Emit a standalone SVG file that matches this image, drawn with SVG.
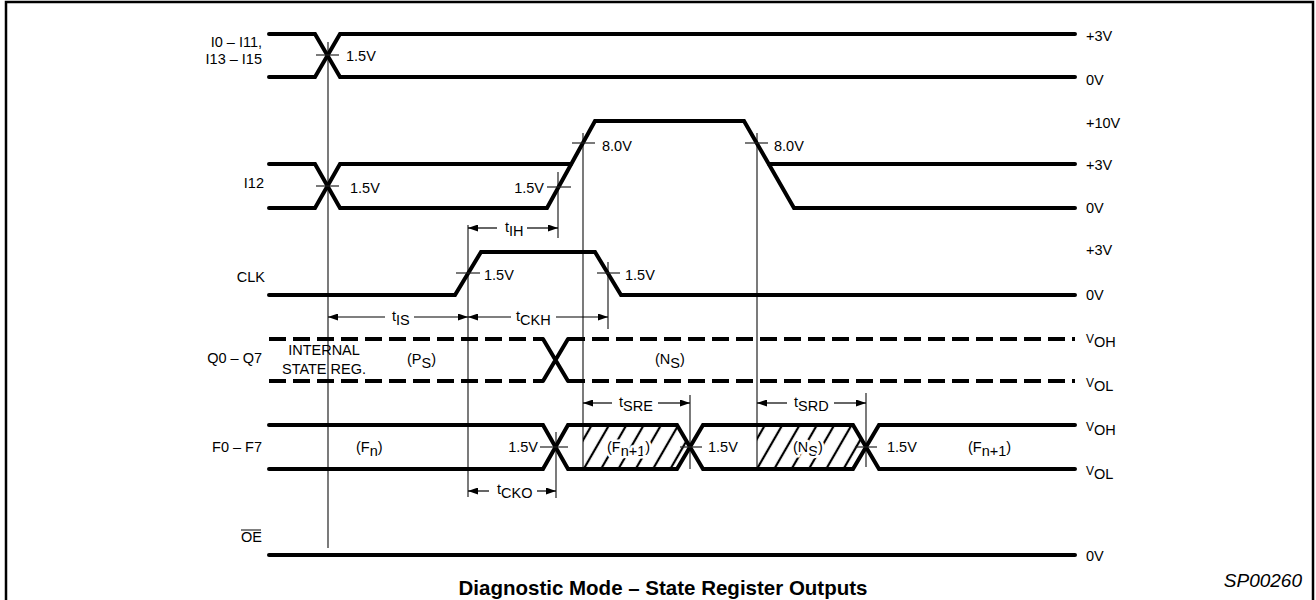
<svg xmlns="http://www.w3.org/2000/svg" width="1316" height="600" viewBox="0 0 1316 600">
<style>
text{font-family:"Liberation Sans",Arial,Helvetica,sans-serif;font-size:14.5px;fill:#000}
.end{text-anchor:end}
.mid{text-anchor:middle}
.sig{fill:none;stroke:#000;stroke-width:4;stroke-linejoin:miter;stroke-linecap:round}
.dash{fill:none;stroke:#000;stroke-width:4;stroke-dasharray:17 7}
.thin{fill:none;stroke:#222;stroke-width:1.2}
.dim{fill:none;stroke:#000;stroke-width:1.2}
.halo{stroke:#fff;stroke-width:5;paint-order:stroke;stroke-linejoin:round}
.title{font-weight:bold;font-size:20.5px}
.code{font-style:italic;font-size:19px}
</style>
<defs>
<marker id="ah" viewBox="0 0 10 7" refX="10" refY="3.5" markerWidth="10" markerHeight="7" markerUnits="userSpaceOnUse" orient="auto"><path d="M0,0 L10,3.5 L0,7 z" fill="#000"/></marker>
<pattern id="hatch" width="15" height="15" patternUnits="userSpaceOnUse" patternTransform="rotate(30)"><line x1="5" y1="-2" x2="5" y2="17" stroke="#000" stroke-width="2.2"/></pattern>
<clipPath id="h1"><polygon points="583,425 677,425 690,447 677,469 583,469"/></clipPath>
<clipPath id="h2"><polygon points="757,425 853,425 866,447 853,469 757,469"/></clipPath>
</defs>
<rect width="1316" height="600" fill="#fff"/>
<path d="M6,600 V2 H1313 V600" fill="none" stroke="#000" stroke-width="2.5"/>

<g id="frame-refs">
<line class="thin" x1="328" y1="42" x2="328" y2="548"/>
<line class="thin" x1="468" y1="225" x2="468" y2="497"/>
<line class="thin" x1="558" y1="172" x2="558" y2="238"/>
<line class="thin" x1="583" y1="133" x2="583" y2="470"/>
<line class="thin" x1="608" y1="262" x2="608" y2="329"/>
<line class="thin" x1="757" y1="133" x2="757" y2="470"/>
<line class="thin" x1="556" y1="432" x2="556" y2="498"/>
<line class="thin" x1="690" y1="395" x2="690" y2="469"/>
<line class="thin" x1="866" y1="393" x2="866" y2="467"/>
</g>

<g id="sig-i0">
<text class="end" x="262" y="47">I0 – I11,</text>
<text class="end" x="262" y="64">I13 – I15</text>
<path class="sig" d="M269,34 H315 L340,77 H1075"/>
<path class="sig" d="M269,77 H315 L340,34 H1075"/>
<line class="thin" x1="316" y1="55" x2="339" y2="55"/>
<text x="346" y="61">1.5V</text>
<text x="1086" y="41">+3V</text>
<text x="1086" y="85">0V</text>
</g>

<g id="sig-i12">
<text class="end" x="264" y="188">I12</text>
<path class="sig" d="M269,164 H315 L340,208 H547 L595,121 H744 L794,208 H1075"/>
<path class="sig" d="M269,208 H315 L340,164 H571"/>
<path class="sig" d="M769,164 H1075"/>
<line class="thin" x1="316" y1="186" x2="339" y2="186"/>
<text x="350" y="193">1.5V</text>
<line class="thin" x1="547" y1="187" x2="571" y2="187"/>
<text class="end" x="544" y="193">1.5V</text>
<line class="thin" x1="572" y1="143" x2="595" y2="143"/>
<text x="602" y="151">8.0V</text>
<line class="thin" x1="745" y1="143" x2="768" y2="143"/>
<text x="774" y="151">8.0V</text>
<text x="1086" y="128">+10V</text>
<text x="1086" y="170">+3V</text>
<text x="1086" y="213">0V</text>
</g>

<g id="sig-clk">
<text class="end" x="265" y="282">CLK</text>
<path class="sig" d="M269,295 H455 L481,252 H595 L621,295 H1075"/>
<line class="thin" x1="456" y1="273" x2="480" y2="273"/>
<text x="484" y="280">1.5V</text>
<line class="thin" x1="597" y1="273" x2="620" y2="273"/>
<text x="625" y="280">1.5V</text>
<text x="1086" y="255">+3V</text>
<text x="1086" y="300">0V</text>
</g>

<g id="sig-q">
<text class="end" x="262" y="363">Q0 – Q7</text>
<text class="mid" x="324" y="355">INTERNAL</text>
<text class="mid" x="324" y="374">STATE REG.</text>
<path class="dash" d="M269,339 H543 M269,381 H543 M568,339 H1075 M568,381 H1075"/>
<path class="sig" d="M543,339 L568,381 M543,381 L568,339"/>
<text x="407" y="364">(P<tspan dy="4">S</tspan><tspan dy="-4">)</tspan></text>
<text x="655" y="364">(N<tspan dy="4">S</tspan><tspan dy="-4">)</tspan></text>
<text x="1086" y="343"><tspan font-size="12">V</tspan><tspan dy="4">OH</tspan></text>
<text x="1086" y="387"><tspan font-size="12">V</tspan><tspan dy="4">OL</tspan></text>
</g>

<g id="sig-f">
<text class="end" x="262" y="452">F0 – F7</text>
<rect x="583" y="425" width="110" height="44" fill="url(#hatch)" clip-path="url(#h1)"/>
<rect x="757" y="425" width="110" height="44" fill="url(#hatch)" clip-path="url(#h2)"/>
<path class="sig" d="M269,425 H543 L568,469 H677 L703,425 H853 L879,469 H1075"/>
<path class="sig" d="M269,469 H543 L568,425 H677 L703,469 H853 L879,425 H1075"/>
<text x="356" y="452">(F<tspan dy="4">n</tspan><tspan dy="-4">)</tspan></text>
<line class="thin" x1="540" y1="447" x2="568" y2="447"/>
<text class="end" x="538" y="452">1.5V</text>
<text class="halo" x="607" y="452">(F<tspan dy="4">n+1</tspan><tspan dy="-4">)</tspan></text>
<line class="thin" x1="680" y1="447" x2="702" y2="447"/>
<text x="708" y="452">1.5V</text>
<text class="halo" x="793" y="452">(N<tspan dy="4">S</tspan><tspan dy="-4">)</tspan></text>
<line class="thin" x1="855" y1="447" x2="877" y2="447"/>
<text x="887" y="452">1.5V</text>
<text x="968" y="452">(F<tspan dy="4">n+1</tspan><tspan dy="-4">)</tspan></text>
<text x="1086" y="431"><tspan font-size="12">V</tspan><tspan dy="4">OH</tspan></text>
<text x="1086" y="475"><tspan font-size="12">V</tspan><tspan dy="4">OL</tspan></text>
</g>

<g id="sig-oe">
<text class="end" x="262" y="542">OE</text>
<line x1="241" y1="530" x2="261" y2="530" stroke="#000" stroke-width="1"/>
<path class="sig" d="M269,555 H1075"/>
<text x="1086" y="561">0V</text>
</g>

<g id="connectors">
<line class="dim" x1="497" y1="228" x2="468" y2="228" marker-end="url(#ah)"/>
<line class="dim" x1="527" y1="228" x2="558" y2="228" marker-end="url(#ah)"/>
<text x="505" y="232">t<tspan dy="4">IH</tspan></text>
<line class="dim" x1="385" y1="317" x2="328" y2="317" marker-end="url(#ah)"/>
<line class="dim" x1="414" y1="317" x2="468" y2="317" marker-end="url(#ah)"/>
<text x="392" y="321">t<tspan dy="4">IS</tspan></text>
<line class="dim" x1="511" y1="317" x2="468" y2="317" marker-end="url(#ah)"/>
<line class="dim" x1="556" y1="317" x2="608" y2="317" marker-end="url(#ah)"/>
<text x="516" y="321">t<tspan dy="4">CKH</tspan></text>
<line class="dim" x1="612" y1="403" x2="583" y2="403" marker-end="url(#ah)"/>
<line class="dim" x1="658" y1="403" x2="690" y2="403" marker-end="url(#ah)"/>
<text x="619" y="407">t<tspan dy="4">SRE</tspan></text>
<line class="dim" x1="787" y1="403" x2="757" y2="403" marker-end="url(#ah)"/>
<line class="dim" x1="834" y1="403" x2="866" y2="403" marker-end="url(#ah)"/>
<text x="794" y="407">t<tspan dy="4">SRD</tspan></text>
<line class="dim" x1="489" y1="491" x2="468" y2="491" marker-end="url(#ah)"/>
<line class="dim" x1="537" y1="491" x2="556" y2="491" marker-end="url(#ah)"/>
<text x="497" y="494">t<tspan dy="4">CKO</tspan></text>
</g>

<text class="title mid" x="663" y="595">Diagnostic Mode – State Register Outputs</text>
<text class="code end" x="1302" y="587">SP00260</text>
</svg>
